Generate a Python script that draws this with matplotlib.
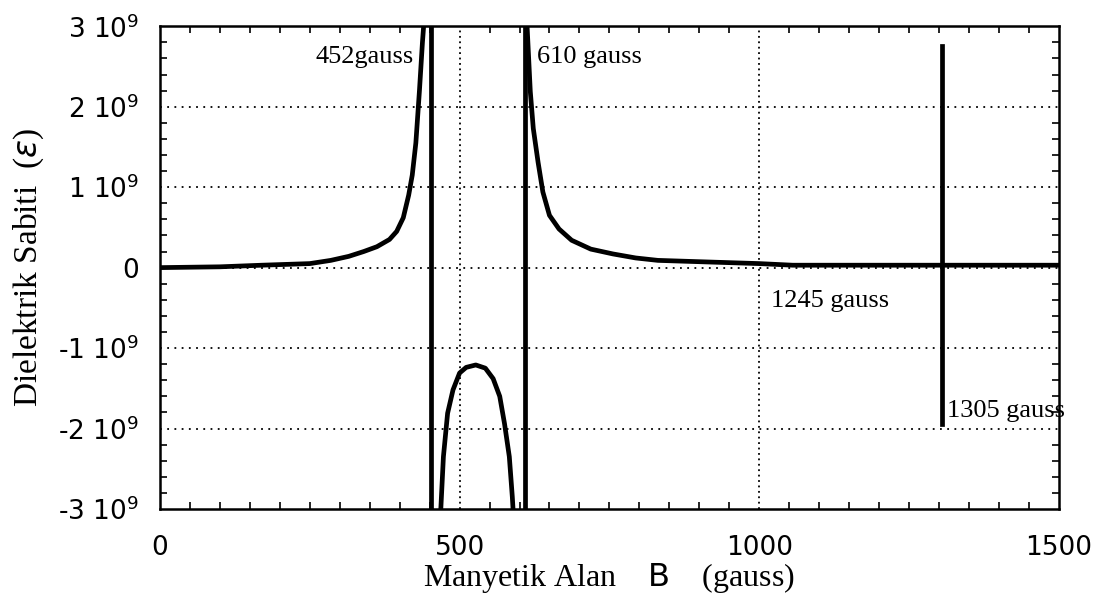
import numpy as np
import matplotlib
matplotlib.use("Agg")
import matplotlib.pyplot as plt
from matplotlib.ticker import MultipleLocator

# values (B in gauss, epsilon in units of 1e9)
left_b = [0, 100, 170, 250, 285, 315, 340, 362, 383, 395, 406, 415, 421, 427, 433, 438, 442]
left_eps = [0.0, 0.01, 0.03, 0.05, 0.09, 0.14, 0.2, 0.26, 0.35, 0.45, 0.62, 0.9, 1.15, 1.55, 2.2, 2.8, 3.2]

mid_b = [468, 473, 480, 489, 500, 511, 527, 543, 556, 567, 575, 583, 588, 590]
mid_eps = [-3.1, -2.35, -1.81, -1.52, -1.31, -1.24, -1.21, -1.25, -1.38, -1.6, -1.94, -2.35, -2.85, -3.1]

right_b = [612, 618, 623, 631, 639, 650, 666, 687, 719, 756, 794, 831, 915, 1000, 1056, 1305, 1500]
right_eps = [3.1, 2.19, 1.73, 1.31, 0.94, 0.65, 0.48, 0.34, 0.23, 0.17, 0.12, 0.09, 0.07, 0.05, 0.03, 0.03, 0.03]

poles = [452, 610]
spike_b = 1305
spike_eps = [-1.95, 2.75]

yticks = [-3, -2, -1, 0, 1, 2, 3]
ytick_labels = ["-3 10$^{9}$", "-2 10$^{9}$", "-1 10$^{9}$", "0", "1 10$^{9}$", "2 10$^{9}$", "3 10$^{9}$"]
xticks = [0, 500, 1000, 1500]

notes = [("452gauss", 424, 2.62, "right"),
         ("610 gauss", 630, 2.62, "left"),
         ("1245 gauss", 1020, -0.42, "left"),
         ("1305 gauss", 1314, -1.78, "left")]

plt.rcParams["mathtext.fontset"] = "dejavusans"
serif = "Liberation Serif"

fig = plt.figure(figsize=(10.96, 6.11), dpi=100)
ax = fig.add_axes([0.146, 0.167, 0.82, 0.79])

scale = 1e9
lw = 3.4
ax.plot(left_b, np.array(left_eps) * scale, color="black", lw=lw)
ax.plot(mid_b, np.array(mid_eps) * scale, color="black", lw=lw)
ax.plot(right_b, np.array(right_eps) * scale, color="black", lw=lw)
for p in poles:
    ax.plot([p, p], [-3.3 * scale, 3.3 * scale], color="black", lw=lw)
ax.plot([spike_b, spike_b], np.array(spike_eps) * scale, color="black", lw=lw)

ax.set_xlim(0, 1500)
ax.set_ylim(-3 * scale, 3 * scale)

ax.set_xticks(xticks)
ax.set_xticklabels([str(t) for t in xticks])
ax.set_yticks([t * scale for t in yticks])
ax.set_yticklabels(ytick_labels)
ax.xaxis.set_minor_locator(MultipleLocator(50))
ax.yaxis.set_minor_locator(MultipleLocator(0.2 * scale))

ax.tick_params(which="both", direction="in", top=True, right=True, color="black")
ax.tick_params(which="major", length=0, labelsize=19)
ax.tick_params(axis="y", which="major", pad=15)
ax.tick_params(axis="x", which="major", pad=19)
ax.tick_params(which="minor", length=5, width=1.2)

for t in [-2, -1, 0, 1, 2]:
    ax.axhline(t * scale, color="black", lw=1.3, ls=(0, (1, 3)), zorder=0)
for t in [500, 1000]:
    ax.axvline(t, color="black", lw=1.3, ls=(0, (1, 2)), zorder=0)

for s in ax.spines.values():
    s.set_linewidth(1.8)

for txt, x, y, ha in notes:
    ax.text(x, y * scale, txt, ha=ha, va="center", fontsize=19, family=serif)

ax.set_xlabel("Manyetik Alan    $\\mathsf{B}$    (gauss)", fontsize=23, family=serif, labelpad=0)
ax.set_ylabel("Dielektrik Sabiti  ($\\varepsilon$)", fontsize=24, family=serif, labelpad=9)

fig.savefig("out.png", dpi=100)
